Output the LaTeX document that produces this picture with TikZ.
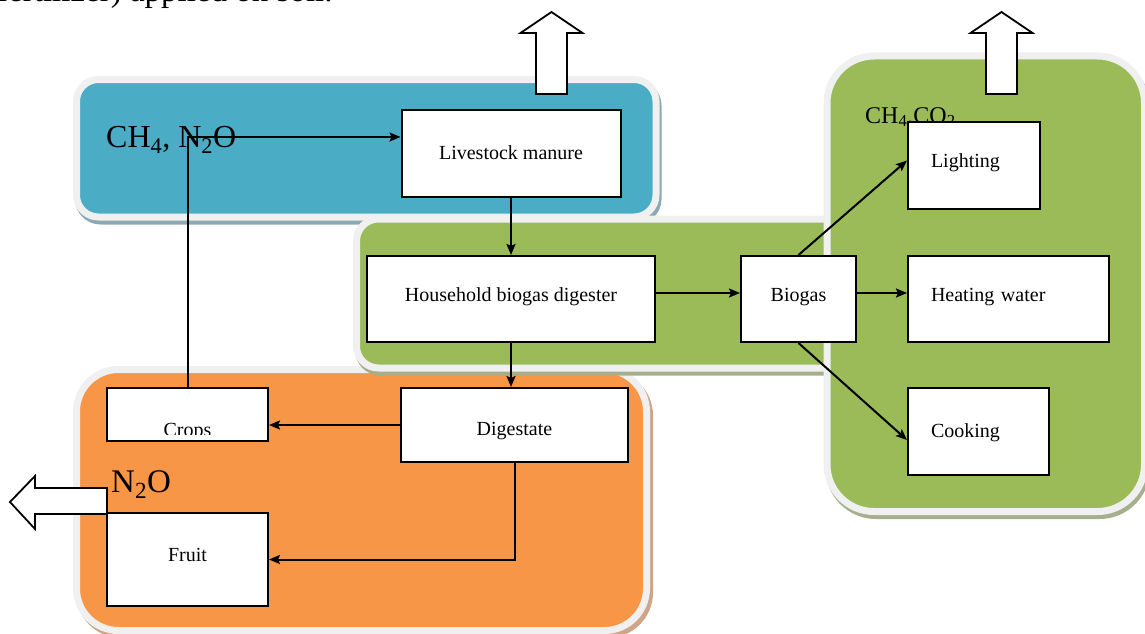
\documentclass[tikz,border=0pt]{standalone}
\usepackage{fontspec}
\setmainfont{Liberation Serif}
\usepackage{tikz}
\usetikzlibrary{arrows.meta}

\definecolor{panelblue}{RGB}{75,172,198}
\definecolor{panelgreen}{RGB}{155,187,89}
\definecolor{panelorange}{RGB}{247,150,70}
\definecolor{panelrim}{RGB}{240,240,240}
\definecolor{shadeblue}{RGB}{140,168,180}
\definecolor{shadegreen}{RGB}{165,175,140}
\definecolor{shadeorange}{RGB}{205,165,135}

\newcommand{\boxfont}{\fontsize{20}{24}\selectfont}

\begin{document}
\begin{tikzpicture}[x=1pt,y=-1pt,>={Stealth[length=11pt,width=9pt,inset=2pt]},
        box/.style={rectangle,draw=black,fill=white,line width=2pt,inner sep=0pt,
          font=\boxfont,text height=14pt,text depth=10pt},
        leftbox/.style={box,align=left,inner xsep=23pt},
        gas/.style={anchor=base west,inner sep=0pt},
        panel/.style={line width=7pt,draw=panelrim},
        link/.style={->,line width=2pt},
        bigarrow/.style={draw=black,fill=white,line width=1.8pt,line join=miter}]

        \useasboundingbox (0,0) rectangle (1145,634);

        \node [gas,font=\fontsize{33}{40}\selectfont] (caption) at (-3,2) {fertilizer) applied on soil.};

        % coloured panels
        \draw [panel,draw=shadeblue,fill=shadeblue,rounded corners=22pt,shift={(2,4)}] (76.5,79.5) rectangle (656,217);
        \draw [panel,fill=panelblue,rounded corners=22pt] (76.5,79.5) rectangle (656,217);
        \draw [panel,draw=shadeorange,fill=shadeorange,rounded corners=42pt,shift={(3,4)}] (76.5,369.5) rectangle (646.5,630.5);
        \draw [panel,fill=panelorange,rounded corners=42pt] (76.5,369.5) rectangle (646.5,630.5);
        \draw [panel,draw=shadegreen,fill=shadegreen,rounded corners=22pt,shift={(2,4)}] (356.5,219) rectangle (900,368);
        \draw [panel,fill=panelgreen,rounded corners=22pt] (356.5,219) rectangle (900,368);
        \draw [panel,draw=shadegreen,fill=shadegreen,rounded corners=47pt,shift={(2,4)}] (827,56) rectangle (1144.5,511.5);
        \draw [panel,fill=panelgreen,rounded corners=47pt] (827,56) rectangle (1144.5,511.5);

        \node [gas,font=\fontsize{32}{38}\selectfont] (gasblue)   at (106,147.5) {CH\textsubscript{4}, N\textsubscript{2}O};
        \node [gas,font=\fontsize{33}{40}\selectfont] (gasorange) at (111,492)   {N\textsubscript{2}O};
        \node [gas,font=\fontsize{24}{29}\selectfont] (gasgreen)  at (865,123)   {CH\textsubscript{4},CO\textsubscript{2}};

        % emissions
        \foreach \ax in {551.5,1001.5}
          \draw [bigarrow] (\ax-15.5,94) -- (\ax-15.5,33) -- (\ax-31,33) -- (\ax,12)
            -- (\ax+31,33) -- (\ax+15.5,33) -- (\ax+15.5,94) -- cycle;
        \draw [bigarrow] (107,488) -- (35,488) -- (35,476) -- (10,502) -- (35,529)
          -- (35,514) -- (107,514) -- cycle;

        \node [box,minimum width=219pt,minimum height=87pt,text height=15pt,text depth=4pt] (manure) at (511,153.5) {Livestock manure};
        \node [box,minimum width=288pt,minimum height=86pt] (digester) [below of=manure,node distance=145.5pt] {Household biogas digester};
        \node [box,minimum width=115pt,minimum height=86pt] (biogas)   [right of=digester,node distance=287.5pt] {Biogas};
        \node [leftbox,text width=86pt,minimum height=87pt] (lighting) at (974,165.5) {Lighting};
        \node [leftbox,text width=155pt,minimum height=86pt] (heating) [right of=biogas,node distance=210pt] {Heating water};
        \node [leftbox,text width=95pt,minimum height=87pt,text height=15pt,text depth=4pt] (cooking) at (978.5,431.5) {Cooking};
        \node [box,minimum width=227pt,minimum height=74pt,text height=22pt,text depth=2pt] (digestate) at (514.5,425) {Digestate};
        \node [box,minimum width=161pt,minimum height=53pt] (crops) at (187.5,414.5) {};
        \node [box,minimum width=161pt,minimum height=93pt] (fruit) [below of=crops,node distance=145pt] {Fruit};

        \begin{scope}
          \clip (crops.north west) rectangle ([yshift=8pt]crops.south east);
          \node [font=\boxfont,anchor=base,inner sep=0pt] (cropstext) at ([yshift=6pt]crops.south) {Crops};
        \end{scope}

        \path [link]
          (manure) edge (digester)
          ([yshift=6pt]digester.east) edge ([yshift=6pt]biogas.west)
          ([yshift=6pt]biogas.east) edge ([yshift=6pt]heating.west)
          (biogas.north) edge ([yshift=5pt]lighting.west)
          (biogas.south) edge ([yshift=-8.5pt]cooking.west)
          (digester.south) edge (digester.south |- digestate.north)
          (digestate.west) edge (digestate.west -| crops.east)
        ;
        \draw [link] (digestate.south) |- (fruit.east);
        \draw [link] (crops.north) |- ([yshift=16.5pt]manure.west);
      \end{tikzpicture}
\end{document}
